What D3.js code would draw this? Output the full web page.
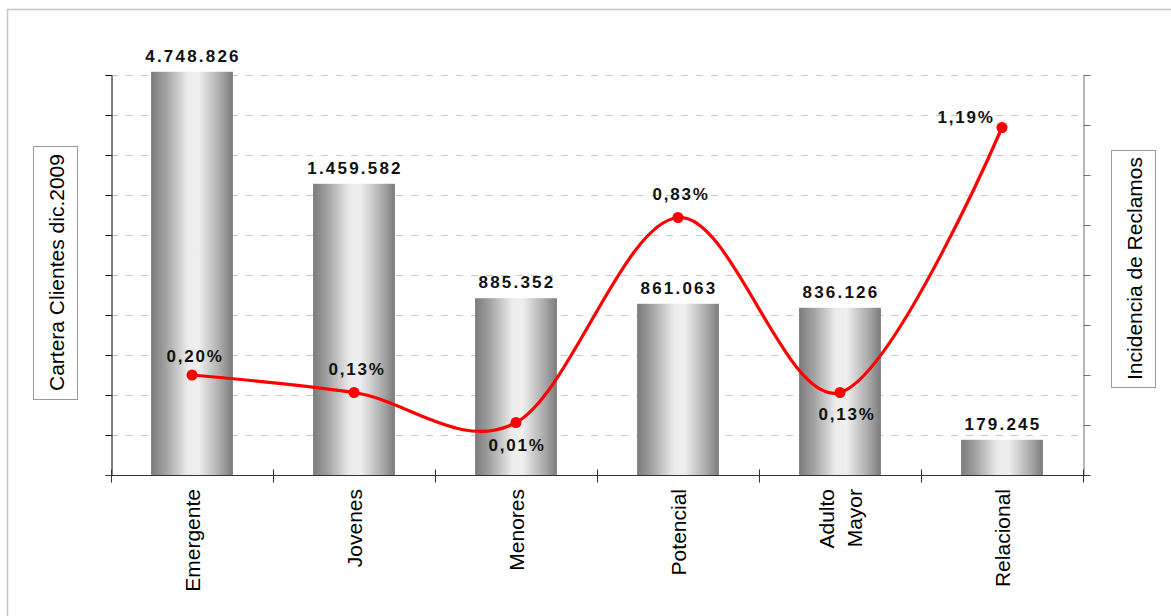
<!DOCTYPE html>
<html>
<head>
<meta charset="utf-8">
<script src="https://cdn.jsdelivr.net/npm/d3@7/dist/d3.min.js"></script>
<style>
  body { margin: 0; background: #fff; }
  svg { display: block; font-family: Arial, "Liberation Sans", sans-serif; }
</style>
</head>
<body>
<div id="chart"></div>
<script>
// categorias del eje X
var segmentos = ["Emergente", "Jovenes", "Menores", "Potencial", "Adulto Mayor", "Relacional"];
// etiquetas de clientes (como aparecen sobre las barras)
var clientes = ["4.748.826", "1.459.582", "885.352", "861.063", "836.126", "179.245"];
// altura graficada de cada barra en la escala del eje izquierdo
var alturaBarra = [5040000, 3640000, 2210000, 2140000, 2090000, 440000];
// incidencia de reclamos (%)
var incidencia = [0.20, 0.13, 0.01, 0.83, 0.13, 1.19];
var etiquetasIncidencia = ["0,20%", "0,13%", "0,01%", "0,83%", "0,13%", "1,19%"];

var width = 1171, height = 616;
var plotLeft = 111, plotRight = 1083, plotTop = 75, plotBottom = 475;

var svg = d3.select("#chart").append("svg")
  .attr("width", width)
  .attr("height", height);

// marco exterior
svg.append("rect")
  .attr("x", 7.5).attr("y", 9.5)
  .attr("width", 1200).attr("height", 700)
  .attr("fill", "none")
  .attr("stroke", "#c4c4c4")
  .attr("stroke-width", 1.5);

var x = d3.scaleBand().domain(segmentos).range([plotLeft, plotRight]).paddingInner(0.495).paddingOuter(0.2475);
var xEdge = d3.scaleLinear().domain([0, segmentos.length]).range([plotLeft, plotRight]);
var yLeft = d3.scaleLinear().domain([0, 5000000]).range([plotBottom, plotTop]);
var yRight = d3.scaleLinear().domain([-0.2, 1.4]).range([plotBottom, plotTop]);

// gradiente de las barras
var grad = svg.append("defs").append("linearGradient")
  .attr("id", "cilindro")
  .attr("x1", "0%").attr("x2", "100%").attr("y1", "0%").attr("y2", "0%");
[[0, "#7b7b7b"], [0.18, "#a2a2a2"], [0.45, "#ececec"], [0.58, "#efefef"], [0.85, "#a9a9a9"], [1, "#7b7b7b"]]
  .forEach(function (s) {
    grad.append("stop").attr("offset", s[0]).attr("stop-color", s[1]);
  });

// lineas de division punteadas
svg.append("g")
  .selectAll("line")
  .data(yLeft.ticks(10).slice(1))
  .enter()
  .append("line")
  .attr("x1", plotLeft).attr("x2", plotRight)
  .attr("y1", function (d) { return Math.round(yLeft(d)) + 0.5; })
  .attr("y2", function (d) { return Math.round(yLeft(d)) + 0.5; })
  .attr("stroke", "#c8c8c8")
  .attr("stroke-dasharray", "7,8");

// barras
svg.append("g")
  .selectAll("rect")
  .data(segmentos)
  .enter()
  .append("rect")
  .attr("x", function (d) { return x(d); })
  .attr("y", function (d, i) { return yLeft(alturaBarra[i]); })
  .attr("width", x.bandwidth())
  .attr("height", function (d, i) { return plotBottom - yLeft(alturaBarra[i]); })
  .attr("fill", "url(#cilindro)");

// etiquetas de clientes
svg.append("g")
  .selectAll("text")
  .data(segmentos)
  .enter()
  .append("text")
  .attr("x", function (d) { return x(d) + x.bandwidth() / 2 + 1; })
  .attr("y", function (d, i) { return yLeft(alturaBarra[i]) - 10; })
  .attr("text-anchor", "middle")
  .style("font-size", "17px")
  .style("font-weight", "bold")
  .style("letter-spacing", "2.2px")
  .attr("fill", "#111")
  .text(function (d, i) { return clientes[i]; });

// eje izquierdo
svg.append("g")
  .attr("transform", "translate(" + (plotLeft + 0.5) + ",0)")
  .call(d3.axisLeft(yLeft).ticks(10).tickFormat("").tickSizeInner(6).tickSizeOuter(0))
  .call(function (g) { g.selectAll("path, line").attr("stroke", "#000"); });

// eje derecho
svg.append("g")
  .attr("transform", "translate(" + (plotRight + 0.5) + ",0)")
  .call(d3.axisRight(yRight).ticks(8).tickFormat("").tickSizeInner(7).tickSizeOuter(0))
  .call(function (g) { g.selectAll("path, line").attr("stroke", "#6e6e6e"); });

// eje X con marcas entre categorias
var xAxis = svg.append("g")
  .attr("transform", "translate(0," + (plotBottom + 0.5) + ")")
  .call(d3.axisBottom(xEdge).ticks(segmentos.length).tickFormat("").tickSizeInner(7).tickSizeOuter(0));
xAxis.selectAll("path, line").attr("stroke", "#333");
xAxis.selectAll(".tick line").attr("y1", -6);
xAxis.select(".domain").attr("d", "M" + (plotLeft - 5) + ",0H" + (plotRight + 7));

// nombres de categorias (rotados)
var cat = svg.append("g")
  .selectAll("text")
  .data(segmentos)
  .enter()
  .append("text")
  .attr("transform", function (d) {
    return "translate(" + (x(d) + x.bandwidth() / 2) + "," + 489 + ") rotate(-90)";
  })
  .attr("text-anchor", "end")
  .style("font-size", "21px")
  .attr("fill", "#000");
cat.each(function (d) {
  var partes = d.split(" ");
  var t = d3.select(this);
  partes.forEach(function (p, j) {
    t.append("tspan")
      .attr("x", 0)
      .attr("dy", j === 0 ? (partes.length > 1 ? "-0.3em" : "0.36em") : "1.33em")
      .text(p);
  });
});

// linea de incidencia
var linea = d3.line()
  .x(function (d, i) { return x(segmentos[i]) + x.bandwidth() / 2; })
  .y(function (d) { return yRight(d); })
  .curve(d3.curveCardinal.tension(0));

svg.append("path")
  .datum(incidencia)
  .attr("d", linea)
  .attr("fill", "none")
  .attr("stroke", "#ff0000")
  .attr("stroke-width", 3.2)
  .attr("stroke-linejoin", "round");

svg.append("g")
  .selectAll("circle")
  .data(incidencia)
  .enter()
  .append("circle")
  .attr("cx", function (d, i) { return x(segmentos[i]) + x.bandwidth() / 2; })
  .attr("cy", function (d) { return yRight(d); })
  .attr("r", 5.5)
  .attr("fill", "#ff0000");

// posicion de cada etiqueta de incidencia respecto del punto
var desplaza = [[3, -13], [3, -18], [1, 28], [3, -18], [7, 27], [-36, -5]];
svg.append("g")
  .selectAll("text")
  .data(incidencia)
  .enter()
  .append("text")
  .attr("x", function (d, i) { return x(segmentos[i]) + x.bandwidth() / 2 + desplaza[i][0]; })
  .attr("y", function (d, i) { return yRight(d) + desplaza[i][1]; })
  .attr("text-anchor", "middle")
  .style("font-size", "17px")
  .style("font-weight", "bold")
  .style("letter-spacing", "1.8px")
  .attr("fill", "#111")
  .text(function (d, i) { return etiquetasIncidencia[i]; });

// titulos de ejes en recuadros
function tituloEje(texto, cx, y0, y1) {
  var g = svg.append("g");
  g.append("rect")
    .attr("x", cx - 22 + 0.5).attr("y", y0 + 0.5)
    .attr("width", 44).attr("height", y1 - y0)
    .attr("fill", "#fff")
    .attr("stroke", "#9a9a9a");
  g.append("text")
    .attr("transform", "translate(" + (cx + 1) + "," + ((y0 + y1) / 2) + ") rotate(-90)")
    .attr("text-anchor", "middle")
    .attr("dy", "0.36em")
    .style("font-size", "21px")
    .attr("fill", "#000")
    .text(texto);
}
tituloEje("Cartera Clientes dic.2009", 55, 146, 399);
tituloEje("Incidencia de Reclamos", 1133, 150, 387);
</script>
</body>
</html>
